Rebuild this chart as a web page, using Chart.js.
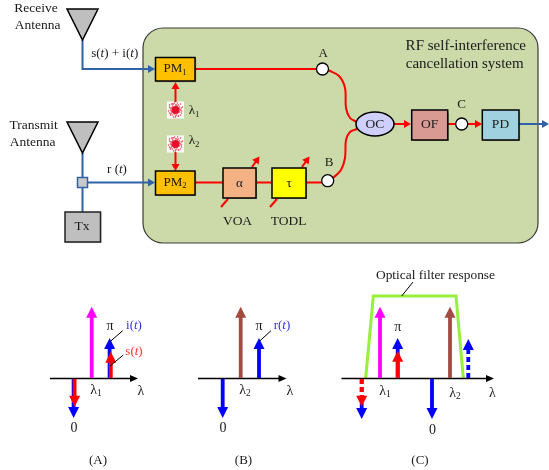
<!DOCTYPE html>
<html>
<head>
<meta charset="utf-8">
<script src="https://cdn.jsdelivr.net/npm/chart.js@4"></script>
<style>
html,body{margin:0;padding:0;background:#fff;overflow:hidden}
canvas{display:block}
</style>
</head>
<body>
<canvas id="c" width="549" height="470"></canvas>
<script>
const BLUE_WIRE = "#2f62a8", RED = "#ff0000", BLUE = "#0000ff", MAGENTA = "#ff00ff", BROWN = "#a34a42", GREEN = "#96f03c";

// wires of the block diagram
const wireX = [
  [82.5,82.5,155],[82.5,82.5],[82.5,155],[519,549],
  [195,317],[175.5,175.5],[175.5,175.5],
  [195,223],[256,272],[306,322],
  [328,339,345,346,350,357],[333,341,345,346,350,357],
  [394,411],[447,456],[467,482],
  [221,228],[252,259.5],[270,277],[302,309.5]
];
const wireY = [
  [40,69,69],[153,212],[182.5,182.5],[124,124],
  [69,69],[102,82],[152,171],
  [182.5,182.5],[182.5,182.5],[182.5,182.5],
  [70,76,88,108,118,122],[178,170,158,140,132,129],
  [124,124],[124,124],[124,124],
  [207,199],[167,156.5],[207,199],[167,156.5]
];
const wireColor = [BLUE_WIRE,BLUE_WIRE,BLUE_WIRE,BLUE_WIRE,RED,RED,RED,RED,RED,RED,RED,RED,RED,RED,RED,RED,RED,RED,RED];
const wireHead = [1,0,1,1,0,1,1,0,0,0,0,0,1,0,1,0,1,0,1];

// spectra: axes, filter shape and leader lines
const axisX = [[50,138],[198,286.5],[341.5,494]];
const axisY = [378.5,378.5,378.5];
const filterX = [365.7,373.3,456,463.3];
const filterY = [378,296,296,378];
const leaderX = [[110,122.7],[110,123.3],[259,271],[401.7,413]];
const leaderY = [[341.7,330.7],[366,355],[341.7,330.7],[296,282]];

// spectral lines, drawn in this order
const peakX =     [91.7,109.6,110.8,73.6,74.6,222.7,240.7,259,380,397.7,397.7,450,432,468.3,361.7,361.7];
const peakBase =  [378,378,378,379,379,379,378,378,378,378,378,378,379,378,379,379];
const peakTip =   [306.7,338,351.7,418,406.7,418,306.7,338,306.7,338,350.7,306.7,419,339,419,406.7];
const peakColor = [MAGENTA,BLUE,RED,BLUE,RED,BLUE,BROWN,BLUE,MAGENTA,BLUE,RED,BROWN,BLUE,BLUE,BLUE,RED];
const peakDash =  [0,0,0,0,0,0,0,0,0,0,0,0,0,1,1,1];

// boxes of the block diagram
const boxName = ["PM1","PM2","VOA","TODL","OF","PD","Tx","tap"];
const boxLeft = [155.5,155.5,223,272,411.7,482.3,65,77.5];
const boxTop = [57.5,171,168,168,110,110,212,177.5];
const boxRight = [195,195,256,306,447.7,519,100.5,87.5];
const boxBottom = [81,195,198,198,140,140,242,187.5];
const boxFill = ["#ffc000","#ffc000","#f4b183","#ffff00","#da9a94","#9fd2de","#bfbfbf","#c9c9c9"];
const boxStroke = ["#000","#000","#000","#000","#000","#000","#222",BLUE_WIRE];

// antennas, junctions and lasers
const antennaX = [82.5,82.5];
const antennaTop = [9,122];
const nodeX = [322.5,327.7,461.7];
const nodeY = [69,180.7,124];
const laserX = [175.5,175.5];
const laserY = [110,144];
const dotDx = [-6,-5,-4,-7,-3,-2,-5,-4,-1,1,3,5,7,6,4,2,0,-2,-5,-6,5,6,3,1,-3,-1,2,6,-4,4,0,-6,-5,5,-3,3,4,-4,0,2];
const dotDy = [-5,-2,-6,1,-4,-6,5,3,-7,-5,-5,-6,-3,-2,-3,-7,6,7,4,-3,5,3,6,5,5,4,3,1,1,2,-5,3,0,0,-6,6,-1,-2,7,-4];

// text; *x* is italic and ~x~ is a subscript
const labelText = [
  "Receive","Antenna","Transmit","Antenna","s(*t*) + i(*t*)","r (*t*)","PM~1~","PM~2~","λ~1~","λ~2~",
  "α","τ","Tx","VOA","TODL","A","B","C","OC","OF","PD","RF self-interference","cancellation system",
  "π","i(*t*)","s(*t*)","λ~1~","λ","0","(A)",
  "π","r(*t*)","λ~2~","λ","0","(B)",
  "π","λ~1~","λ~2~","λ","0","(C)","Optical filter response"
];
const labelX = [
  36,37.5,33.7,32.5,114.7,117,175,175,194,194,
  239.5,289,82,237.5,288.7,323.3,329,461.7,375,429.7,500.5,465.8,464.7,
  110,134,134,96,141,74,98,
  259,282,245,290,223,243.5,
  397.7,385,455,492.5,432.5,420,435.5
];
const labelY = [
  8,25,125.7,142.7,54,170,69,182.5,111,141,
  183.5,183.5,226.5,221.5,221.5,53.5,162.5,104.5,124.5,124.5,124.5,46,64,
  326,326,352,390,391,428,461,
  326,326,390,391,428,460.5,
  327,391,393,393,430,460.5,275
];
const labelSize = [
  13.5,13.5,13.5,13.5,13,13,13,13,13,13,
  13,13,13.5,13.5,13.5,13,13,13,13.5,13.5,13.5,15,15,
  14,13,13,14,14,14,13,
  14,13,14,14,14,13,
  14,14,14,14,14,13,13.4
];
const labelColor = {24:"#3333ee",25:"#ff3333",31:"#3333ee"};

const datasets = [];
function addLine(xs, ys, color, width, head, opts) {
  opts = opts || {};
  const pts = xs.map((x, i) => ({x: x, y: ys[i]}));
  const ds = {data: pts, showLine: true, borderColor: color, borderWidth: width, pointRadius: 0,
    tension: opts.tension || 0, borderDash: opts.dash || [], borderCapStyle: "butt", clip: false};
  if (head) {
    const n = pts.length, a = pts[n - 2], b = pts[n - 1];
    const d = Math.hypot(b.x - a.x, b.y - a.y);
    const back = Math.min(head.len * 0.9, d);
    ds.tip = {x: b.x, y: b.y};
    ds.head = head;
    pts[n - 1] = {x: b.x - (b.x - a.x) * back / d, y: b.y - (b.y - a.y) * back / d};
  }
  datasets.push(ds);
}

addLine(filterX, filterY, GREEN, 3);
wireX.forEach((xs, i) => addLine(xs, wireY[i], wireColor[i], 2,
  wireHead[i] ? {len: 7, half: 4} : null, {tension: xs.length > 3 ? 0.35 : 0}));
axisX.forEach((xs, i) => addLine(xs, [axisY[i], axisY[i]], "#000", 1.5, {len: 8, half: 3.5}));
peakX.forEach((x, i) => addLine([x, x], [peakBase[i], peakTip[i]], peakColor[i], 3.8,
  {len: 11, half: 5.5}, {dash: peakDash[i] ? [5, 3] : []}));
leaderX.forEach((xs, i) => addLine(xs, leaderY[i], "#000", 1));
// laser speckle and core
laserX.forEach((lx, k) => {
  datasets.push({data: dotDx.map((dx, i) => ({x: lx + dx, y: laserY[k] + dotDy[i]})),
    pointRadius: 0.8, pointBackgroundColor: "#e8434f", pointBorderWidth: 0, showLine: false, clip: false});
  datasets.push({data: [{x: lx, y: laserY[k]}], pointRadius: 4, pointBackgroundColor: "#e5102c",
    pointBorderWidth: 0, showLine: false, clip: false});
});
datasets.push({data: nodeX.map((x, i) => ({x: x, y: nodeY[i]})), pointRadius: 6, pointBackgroundColor: "#fff",
  pointBorderColor: "#000", pointBorderWidth: 1.3, showLine: false, clip: false});
datasets.forEach((d, i) => { d.order = datasets.length - i; });

function drawRuns(ctx, s, x, y, size) {
  const parts = s.split(/(\*[^*]+\*|~[^~]+~)/).filter(p => p);
  const runs = parts.map(p => {
    if (p[0] === "*") return {t: p.slice(1, -1), font: `italic ${size}px "Liberation Serif"`, dy: 0};
    if (p[0] === "~") return {t: p.slice(1, -1), font: `${size * 0.68}px "Liberation Serif"`, dy: size * 0.28};
    return {t: p, font: `${size}px "Liberation Serif"`, dy: 0};
  });
  let w = 0;
  runs.forEach(r => { ctx.font = r.font; r.w = ctx.measureText(r.t).width; w += r.w; });
  let cx = x - w / 2;
  ctx.textAlign = "left";
  ctx.textBaseline = "middle";
  runs.forEach(r => { ctx.font = r.font; ctx.fillText(r.t, cx, y + r.dy); cx += r.w; });
}

const diagram = {
  id: "diagram",
  beforeDatasetsDraw(chart) {
    const ctx = chart.ctx, sx = chart.scales.x, sy = chart.scales.y;
    ctx.save();
    const l = sx.getPixelForValue(143), t = sy.getPixelForValue(28);
    const r = sx.getPixelForValue(538), b = sy.getPixelForValue(243);
    ctx.beginPath();
    ctx.roundRect(l, t, r - l, b - t, 20);
    ctx.fillStyle = "#ccd9a9";
    ctx.fill();
    ctx.strokeStyle = "#3c3c3c";
    ctx.lineWidth = 1.2;
    ctx.stroke();
    // white square behind each laser
    ctx.fillStyle = "#fff";
    laserX.forEach((x, i) => ctx.fillRect(sx.getPixelForValue(x) - 8.5, sy.getPixelForValue(laserY[i]) - 8.5, 17, 17));
    ctx.restore();
  },
  afterDatasetDraw(chart, args) {
    // arrow head right after its own stem so the overlaps come out right
    const ds = chart.data.datasets[args.index];
    if (!ds.head) return;
    const ctx = chart.ctx, sx = chart.scales.x, sy = chart.scales.y;
    const n = ds.data.length, a = ds.data[n - 2];
    const tx = sx.getPixelForValue(ds.tip.x), ty = sy.getPixelForValue(ds.tip.y);
    const ax = sx.getPixelForValue(a.x), ay = sy.getPixelForValue(a.y);
    const d = Math.hypot(tx - ax, ty - ay), ux = (tx - ax) / d, uy = (ty - ay) / d;
    ctx.save();
    ctx.fillStyle = ds.borderColor;
    ctx.beginPath();
    ctx.moveTo(tx, ty);
    ctx.lineTo(tx - ux * ds.head.len - uy * ds.head.half, ty - uy * ds.head.len + ux * ds.head.half);
    ctx.lineTo(tx - ux * ds.head.len + uy * ds.head.half, ty - uy * ds.head.len - ux * ds.head.half);
    ctx.closePath();
    ctx.fill();
    ctx.restore();
  },
  afterDatasetsDraw(chart) {
    const ctx = chart.ctx, sx = chart.scales.x, sy = chart.scales.y;
    ctx.save();
    // antennas
    antennaX.forEach((x, i) => {
      const px = sx.getPixelForValue(x), py = sy.getPixelForValue(antennaTop[i]);
      ctx.beginPath();
      ctx.moveTo(px - 15.5, py);
      ctx.lineTo(px + 15.5, py);
      ctx.lineTo(px, py + 31);
      ctx.closePath();
      ctx.fillStyle = "#bfbfbf";
      ctx.fill();
      ctx.strokeStyle = "#000";
      ctx.lineWidth = 1.5;
      ctx.stroke();
    });
    // boxes
    boxName.forEach((n, i) => {
      const l = sx.getPixelForValue(boxLeft[i]), t = sy.getPixelForValue(boxTop[i]);
      const w = sx.getPixelForValue(boxRight[i]) - l, h = sy.getPixelForValue(boxBottom[i]) - t;
      ctx.save();
      ctx.shadowColor = "rgba(0,0,0,.35)";
      ctx.shadowOffsetX = 0.8;
      ctx.shadowOffsetY = 0.8;
      ctx.shadowBlur = 1;
      ctx.fillStyle = boxFill[i];
      ctx.fillRect(l, t, w, h);
      ctx.restore();
      ctx.strokeStyle = boxStroke[i];
      ctx.lineWidth = 1.5;
      ctx.strokeRect(l, t, w, h);
    });
    // optical coupler
    ctx.beginPath();
    ctx.ellipse(sx.getPixelForValue(375), sy.getPixelForValue(124), 19, 12, 0, 0, Math.PI * 2);
    ctx.fillStyle = "#cfcffb";
    ctx.fill();
    ctx.strokeStyle = "#000";
    ctx.lineWidth = 1.5;
    ctx.stroke();
    // text
    labelText.forEach((s, i) => {
      ctx.fillStyle = labelColor[i] || "#1a1a1a";
      drawRuns(ctx, s, sx.getPixelForValue(labelX[i]), sy.getPixelForValue(labelY[i]), labelSize[i]);
    });
    ctx.restore();
  }
};

new Chart(document.getElementById("c"), {
  type: "scatter",
  data: {datasets: datasets},
  plugins: [diagram],
  options: {
    responsive: false,
    animation: false,
    layout: {padding: 0, autoPadding: false},
    plugins: {legend: {display: false}, tooltip: {enabled: false}},
    scales: {
      x: {type: "linear", display: false, min: 0, max: 549},
      y: {type: "linear", display: false, min: 0, max: 470, reverse: true}
    }
  }
});
</script>
</body>
</html>
